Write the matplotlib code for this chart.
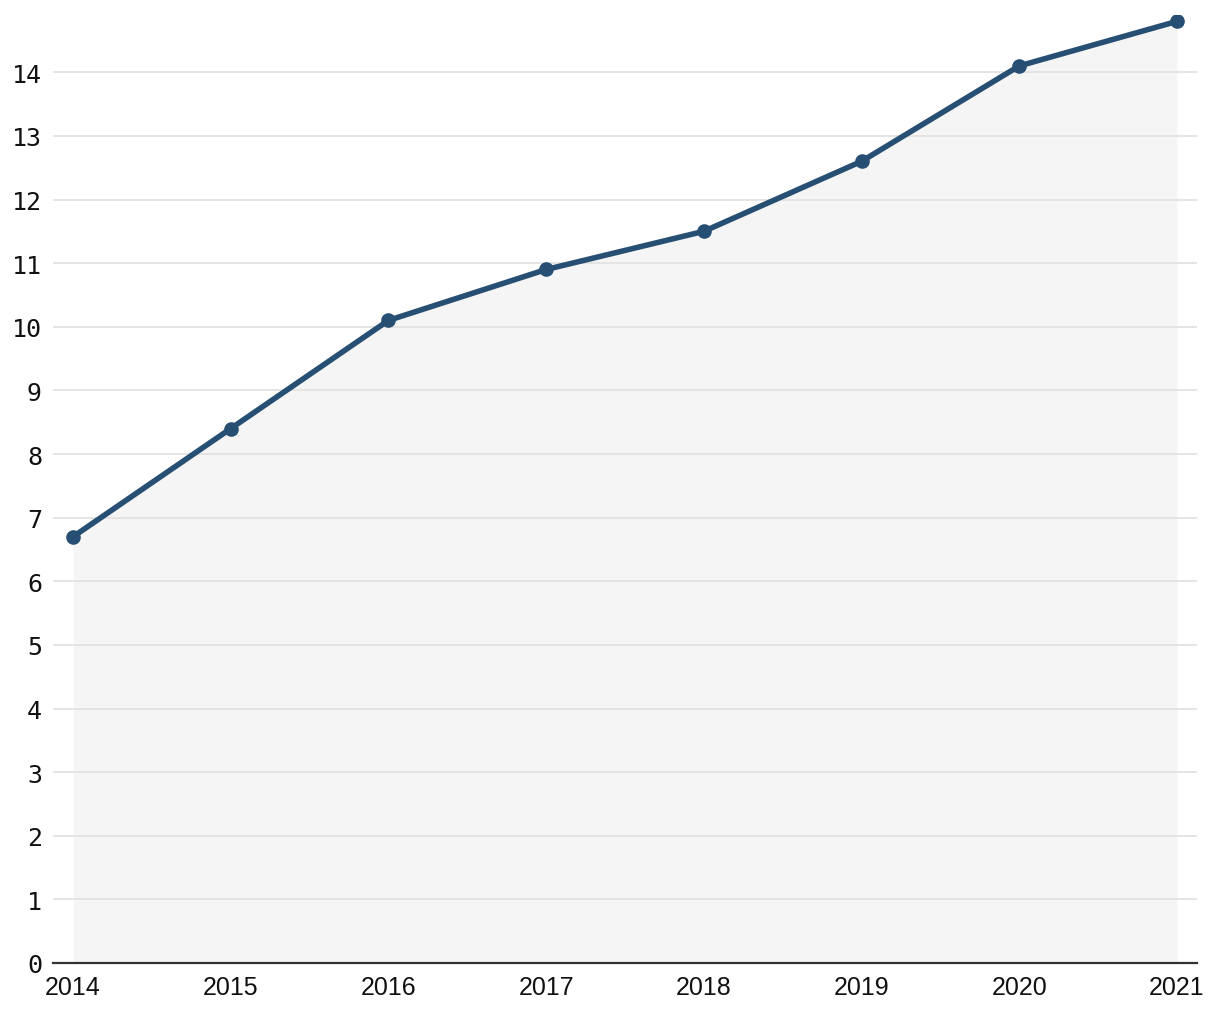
#!/usr/bin/env python3
import matplotlib

matplotlib.use("Agg")
import matplotlib.pyplot as plt

years = [2014, 2015, 2016, 2017, 2018, 2019, 2020, 2021]
values = [6.7, 8.4, 10.1, 10.9, 11.5, 12.6, 14.1, 14.8]
y_ticks = list(range(0, 15))

LINE_COLOR = "#264f73"
FILL_COLOR = "#f5f5f5"
GRID_COLOR = "#e3e3e3"


def main() -> int:
    fig = plt.figure(figsize=(12.2, 10.2), dpi=100)
    ax = fig.add_axes([53 / 1220, 56 / 1020, (1197 - 53) / 1220, (1020 - 56 - 16) / 1020])

    ax.fill_between(years, values, 0, color=FILL_COLOR, linewidth=0, zorder=1)
    ax.plot(years, values, color=LINE_COLOR, linewidth=4, marker="o",
            markersize=9.5, solid_capstyle="round", zorder=3)

    ax.set_xlim(years[0] - 0.127, years[-1] + 0.127)
    ax.set_ylim(0, 14.9)
    ax.set_xticks(years)
    ax.set_yticks(y_ticks)
    ax.yaxis.grid(True, color=GRID_COLOR, linewidth=1.3, zorder=2)
    ax.set_axisbelow(False)
    ax.grid(axis="x", visible=False)

    for side in ("top", "right", "left"):
        ax.spines[side].set_visible(False)
    ax.spines["bottom"].set_color("#333333")
    ax.spines["bottom"].set_linewidth(1.6)
    ax.spines["bottom"].set_zorder(4)

    ax.tick_params(axis="both", length=0)
    ax.tick_params(axis="y", pad=8)
    ax.tick_params(axis="x", pad=9)
    for lbl in ax.get_yticklabels():
        lbl.set_fontfamily("DejaVu Sans Mono")
        lbl.set_fontsize(18)
        lbl.set_color("#111111")
    for lbl in ax.get_xticklabels():
        lbl.set_fontfamily("Liberation Sans")
        lbl.set_fontsize(18)
        lbl.set_color("#111111")

    fig.savefig("out.png", dpi=100)
    plt.close(fig)
    return 0


if __name__ == "__main__":
    raise SystemExit(main())
